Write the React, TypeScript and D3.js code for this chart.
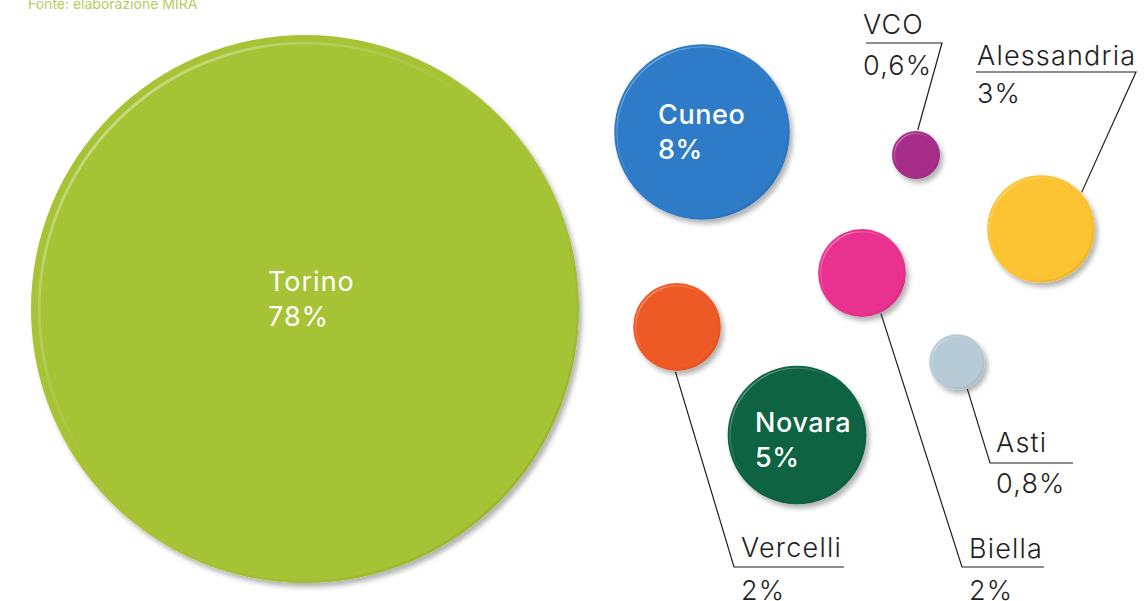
import React from "react";
import * as d3 from "d3";

// ---- data ----
const regions = ["Torino", "Cuneo", "Novara", "Vercelli", "Biella", "Alessandria", "Asti", "VCO"];
const shares = [78, 8, 5, 2, 2, 3, 0.8, 0.6];
const sourceNote = "Fonte: elaborazione MIRA";

// ---- layout / style (not data) ----
const centers: [number, number][] = [
  [305, 309], [702, 132], [797, 435], [677, 327], [862, 273], [1041, 229], [957, 362], [916, 155],
];
const colors = ["#a5c334", "#2f7bc8", "#0d6343", "#ee5a25", "#e9338f", "#fbc230", "#b6cbd5", "#a62f8a"];
// inside labels: [dx, dy] of first baseline relative to centre, weight, letter spacing
const inside: Record<string, [number, number, number, number]> = {
  Torino: [-37, -18, 400, 1],
  Cuneo: [-44, -8, 500, 0.6],
  Novara: [-42, -3, 500, 0.6],
};
// outside labels: angle of leader start (deg), elbow, underline other end x, text x, name baseline, value baseline
const outside: Record<string, { a: number; ex: number; ey: number; ux: number; tx: number; ny: number; vy: number }> = {
  VCO: { a: -86, ex: 942, ey: 43, ux: 866, tx: 863, ny: 34, vy: 75 },
  Alessandria: { a: -42, ex: 1136, ey: 72, ux: 976, tx: 977, ny: 65, vy: 103 },
  Vercelli: { a: 92, ex: 734, ey: 567, ux: 844, tx: 741, ny: 557, vy: 600 },
  Biella: { a: 65, ex: 962, ey: 567, ux: 1044, tx: 969, ny: 558, vy: 600 },
  Asti: { a: 69, ex: 990, ey: 463, ux: 1073, tx: 996, ny: 452, vy: 493 },
};

const W = 1148;
const H = 601;
const FONT = "Inter, 'Noto Sans', sans-serif";

const it = d3.formatLocale({ decimal: ",", thousands: ".", grouping: [3], currency: ["", "€"] });
const fmt = (v: number) => it.format("~")(v) + "%";

export default function App() {
  const r = d3.scaleSqrt().domain([0, d3.max(shares) as number]).range([0, 274]);
  const data = regions.map((name, i) => ({
    name,
    value: shares[i],
    cx: centers[i][0],
    cy: centers[i][1],
    color: colors[i],
    rad: r(shares[i]),
  }));
  const line = d3.line();

  return (
    <svg
      width={W}
      height={H}
      style={{ position: "absolute", left: 0, top: 0, background: "#fff" }}
      fontFamily={FONT}
    >
      <defs>
        <filter id="shadow" x="-20%" y="-20%" width="145%" height="145%">
          <feDropShadow dx="3" dy="4" stdDeviation="2.5" floodColor="#000" floodOpacity="0.3" />
        </filter>
        <linearGradient id="hl" x1="0" y1="0" x2="1" y2="1">
          <stop offset="0" stopColor="#fff" stopOpacity="0.6" />
          <stop offset="0.25" stopColor="#fff" stopOpacity="0.2" />
          <stop offset="0.45" stopColor="#fff" stopOpacity="0" />
        </linearGradient>
        <linearGradient id="dk" x1="0" y1="0" x2="1" y2="1">
          <stop offset="0.6" stopColor="#000" stopOpacity="0" />
          <stop offset="1" stopColor="#000" stopOpacity="0.1" />
        </linearGradient>
      </defs>

      <text x={28} y={9} fontSize={14} fill="#b4cc5c">
        {sourceNote}
      </text>

      {data.map((d) => (
        <g key={d.name}>
          <circle cx={d.cx} cy={d.cy} r={d.rad} fill={d.color} filter="url(#shadow)" />
          <circle
            cx={d.cx}
            cy={d.cy}
            r={Math.max(d.rad - 1.5, 1)}
            fill="none"
            stroke="url(#dk)"
            strokeWidth={2.5}
          />
          <circle
            cx={d.cx}
            cy={d.cy}
            r={Math.max(d.rad - Math.max(2.5, d.rad * 0.03), 1)}
            fill="none"
            stroke="url(#hl)"
            strokeWidth={Math.max(1.2, d.rad * 0.01)}
          />
        </g>
      ))}

      {data
        .filter((d) => inside[d.name])
        .map((d) => {
          const [dx, dy, w, ls] = inside[d.name];
          return (
            <text key={d.name} fill="#fff" fontSize={27} fontWeight={w} letterSpacing={ls}>
              <tspan x={d.cx + dx} y={d.cy + dy}>
                {d.name}
              </tspan>
              <tspan x={d.cx + dx} y={d.cy + dy + 35}>
                {fmt(d.value)}
              </tspan>
            </text>
          );
        })}

      {data
        .filter((d) => outside[d.name])
        .map((d) => {
          const o = outside[d.name];
          const a = (o.a * Math.PI) / 180;
          const sx = d.cx + (d.rad + 1) * Math.cos(a);
          const sy = d.cy + (d.rad + 1) * Math.sin(a);
          const path = line([
            [sx, sy],
            [o.ex, o.ey],
            [o.ux, o.ey],
          ]) as string;
          return (
            <g key={d.name}>
              <path d={path} fill="none" stroke="#1e1e1e" strokeWidth={1.2} />
              <text x={o.tx} y={o.ny} fontSize={27} fontWeight={300} letterSpacing={1.2} fill="#1e1e1e">
                {d.name}
              </text>
              <text x={o.tx} y={o.vy} fontSize={27} fontWeight={300} letterSpacing={1.2} fill="#1e1e1e">
                {fmt(d.value)}
              </text>
            </g>
          );
        })}
    </svg>
  );
}
